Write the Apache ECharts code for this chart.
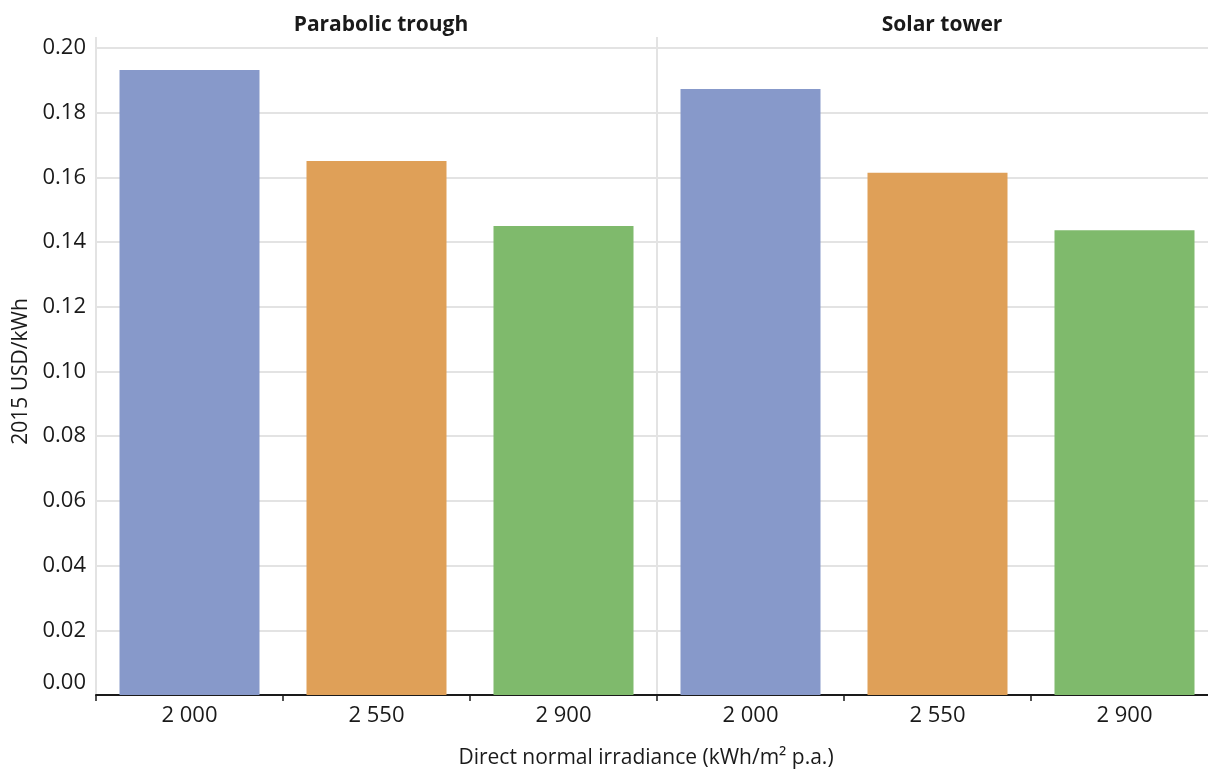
<!DOCTYPE html>
<html>
<head>
<meta charset="utf-8">
<script src="https://cdn.jsdelivr.net/npm/echarts@6/dist/echarts.min.js"></script>
<style>
html,body{margin:0;padding:0;background:#fff;}
#chart{width:1208px;height:771px;}
</style>
</head>
<body>
<div id="chart"></div>
<script>
const panels = ['Parabolic trough', 'Solar tower'];
const categories = ['2 000', '2 550', '2 900', '2 000', '2 550', '2 900'];
const values = [0.1932, 0.1651, 0.1450, 0.1873, 0.1614, 0.1437];
const barColors = ['#8799CA', '#DFA058', '#7FBA6C', '#8799CA', '#DFA058', '#7FBA6C'];
const yTicks = { min: 0, max: 0.2, interval: 0.02 };
const yName = '2015 USD/kWh';
const xName = 'Direct normal irradiance (kWh/m\u00B2 p.a.)';

const FONT = 'Open Sans';
const chart = echarts.init(document.getElementById('chart'));
chart.setOption({
  animation: false,
  textStyle: { fontFamily: FONT },
  title: [
    { text: panels[0], left: 376, top: 10, textAlign: 'center',
      textStyle: { fontFamily: FONT, fontSize: 21, fontWeight: 'bold', color: '#1a1a1a' } },
    { text: panels[1], left: 937, top: 10, textAlign: 'center',
      textStyle: { fontFamily: FONT, fontSize: 21, fontWeight: 'bold', color: '#1a1a1a' } },
    { text: xName, left: 641, top: 743, textAlign: 'center',
      textStyle: { fontFamily: FONT, fontSize: 21, fontWeight: 'normal', color: '#1a1a1a' } }
  ],
  grid: [
    { left: 96, top: 48, right: -10, bottom: 76, outerBoundsMode: 'none', containLabel: false },
    { left: 96, top: 37, right: -10, bottom: 76, outerBoundsMode: 'none', containLabel: false }
  ],
  xAxis: [
    {
      type: 'category', gridIndex: 0, data: categories,
      axisLine: { show: true, lineStyle: { color: '#1a1a1a', width: 2 } },
      axisTick: { show: true, alignWithLabel: false, length: 6, lineStyle: { color: '#1a1a1a', width: 1.5 } },
      axisLabel: { fontFamily: FONT, fontSize: 22, color: '#1a1a1a', margin: 10 },
      splitLine: { show: false }
    },
    {
      type: 'value', gridIndex: 1, min: 0, max: 6, interval: 3,
      axisLine: { show: false }, axisTick: { show: false }, axisLabel: { show: false },
      splitLine: { show: true, lineStyle: { color: '#e3e3e3', width: 2 } }
    }
  ],
  yAxis: [
    {
      type: 'value', gridIndex: 0, min: yTicks.min, max: yTicks.max, interval: yTicks.interval,
      name: yName, nameLocation: 'middle', nameGap: 64, nameRotate: 90,
      nameTextStyle: { fontFamily: FONT, fontSize: 21, color: '#1a1a1a' },
      axisLine: { show: false }, axisTick: { show: false },
      axisLabel: {
        fontFamily: FONT, fontSize: 22, color: '#1a1a1a', margin: 10,
        formatter: (v) => v === 0 ? '{z|0.00}' : v.toFixed(2),
        rich: { z: { fontFamily: FONT, fontSize: 22, color: '#1a1a1a', padding: [0, 0, 24, 0] } }
      },
      splitLine: { show: true, lineStyle: { color: '#e3e3e3', width: 2 } }
    },
    {
      type: 'value', gridIndex: 1, min: 0, max: 1,
      axisLine: { show: false }, axisTick: { show: false }, axisLabel: { show: false }, splitLine: { show: false }
    }
  ],
  series: [
    {
      type: 'bar', xAxisIndex: 0, yAxisIndex: 0, barWidth: 140, z: 3,
      data: values.map((v, i) => ({ value: v, itemStyle: { color: barColors[i] } }))
    }
  ]
});
</script>
</body>
</html>
